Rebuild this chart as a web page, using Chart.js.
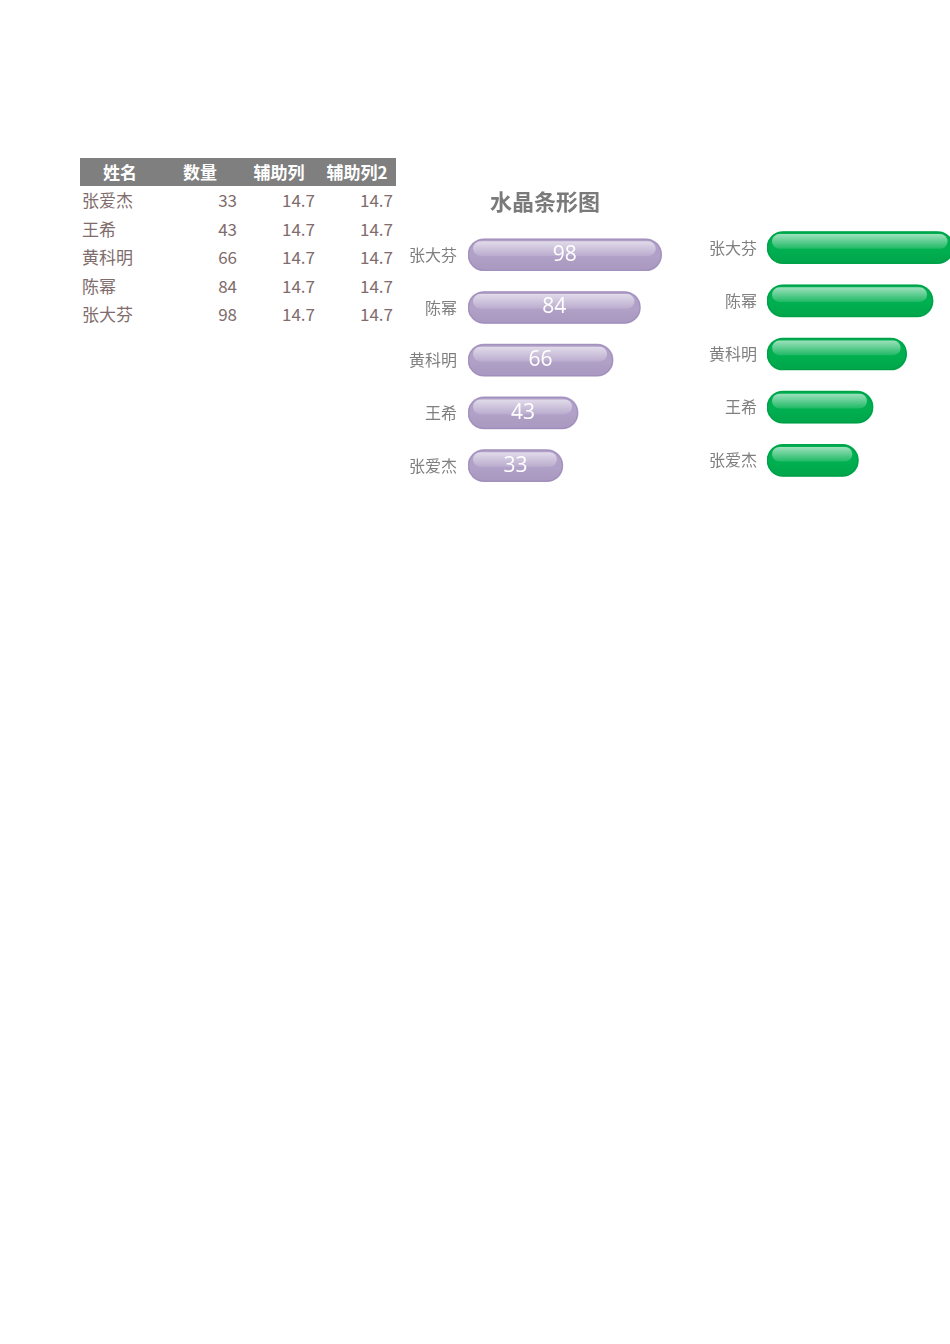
<!DOCTYPE html>
<html>
<head>
<meta charset="utf-8">
<script src="https://cdn.jsdelivr.net/npm/chart.js@4.4.1/dist/chart.umd.min.js"></script>
<style>
  html, body { margin: 0; padding: 0; background: #fff; overflow: hidden; }
  body { width: 950px; height: 1344px; position: relative; font-family: "Noto Sans CJK SC", "Noto Sans", sans-serif; }
  #tbl { position: absolute; left: 80px; top: 158px; border-collapse: collapse; table-layout: fixed; width: 316px; }
  #tbl th { background: #7f7f7f; color: #fff; font-weight: bold; font-size: 17px; height: 28px; padding: 0; text-align: center; line-height: 28px; }
  #tbl td { color: #806c6c; font-size: 17px; height: 28.5px; line-height: 28.5px; padding: 0 3px 0 0; text-align: right; }
  #tbl td.name { text-align: left; padding: 0 0 0 2px; }
  .box { position: absolute; }
  canvas { display: block; }
</style>
</head>
<body>
<table id="tbl">
  <colgroup><col style="width:80px"><col style="width:80px"><col style="width:78px"><col style="width:78px"></colgroup>
  <thead><tr id="head"></tr></thead>
  <tbody id="rows"></tbody>
</table>
<div class="box" style="left:400px;top:175px;"><canvas id="chart1" width="290" height="320"></canvas></div>
<div class="box" style="left:700px;top:175px;"><canvas id="chart2" width="280" height="320"></canvas></div>
<script>
// data, as in the sheet (first row ends up at the bottom of the bar chart)
var headers = ['姓名', '数量', '辅助列', '辅助列2'];
var names = ['张爱杰', '王希', '黄科明', '陈幂', '张大芬'];
var counts = [33, 43, 66, 84, 98];
var helper1 = [14.7, 14.7, 14.7, 14.7, 14.7];
var helper2 = [14.7, 14.7, 14.7, 14.7, 14.7];
var chartTitle = '水晶条形图';

// table
var head = document.getElementById('head');
headers.forEach(function (h) {
  var th = document.createElement('th');
  th.textContent = h;
  head.appendChild(th);
});
var rows = document.getElementById('rows');
names.forEach(function (n, i) {
  var tr = document.createElement('tr');
  [n, counts[i], helper1[i], helper2[i]].forEach(function (v, j) {
    var td = document.createElement('td');
    if (j === 0) td.className = 'name';
    td.textContent = v;
    tr.appendChild(td);
  });
  rows.appendChild(tr);
});

// capsule length = helper + value + helper
var totals = counts.map(function (v, i) { return helper1[i] + v + helper2[i]; });

function pill(ctx, x, y, w, h) {
  var r = h / 2;
  ctx.beginPath();
  ctx.moveTo(x + r, y);
  ctx.lineTo(x + w - r, y);
  ctx.arc(x + w - r, y + r, r, -Math.PI / 2, Math.PI / 2);
  ctx.lineTo(x + r, y + h);
  ctx.arc(x + r, y + r, r, Math.PI / 2, Math.PI * 1.5);
  ctx.closePath();
}

// glossy overlay + value labels
var crystal = {
  id: 'crystal',
  afterDatasetsDraw: function (chart, args, opts) {
    var ctx = chart.ctx;
    var meta = chart.getDatasetMeta(0);
    meta.data.forEach(function (bar, i) {
      var p = bar.getProps(['x', 'y', 'base', 'height'], true);
      var l = Math.min(p.base, p.x), r = Math.max(p.base, p.x);
      var h = p.height, t = p.y - h / 2;
      ctx.save();
      // darker lower body
      pill(ctx, l, t, r - l, h);
      var g = ctx.createLinearGradient(0, t, 0, t + h);
      g.addColorStop(0, 'rgba(0,0,0,0)');
      g.addColorStop(0.55, 'rgba(0,0,0,0)');
      g.addColorStop(1, opts.shade);
      ctx.fillStyle = g;
      ctx.fill();
      // edge
      pill(ctx, l + 0.5, t + 0.5, r - l - 1, h - 1);
      ctx.strokeStyle = opts.edge;
      ctx.lineWidth = 1;
      ctx.stroke();
      // top highlight
      var hl = l + 5, hr = r - 6, ht = t + 2.5, hh = h * 0.46;
      pill(ctx, hl, ht, hr - hl, hh);
      g = ctx.createLinearGradient(0, ht, 0, ht + hh);
      g.addColorStop(0, opts.hiTop);
      g.addColorStop(1, opts.hiBottom);
      ctx.fillStyle = g;
      ctx.fill();
      ctx.restore();
      if (opts.showValues) {
        ctx.save();
        ctx.font = '21px "Open Sans", "Noto Sans", sans-serif';
        ctx.fillStyle = '#ffffff';
        ctx.textAlign = 'center';
        ctx.textBaseline = 'middle';
        ctx.fillText(String(counts[i]), (l + r) / 2, p.y);
        ctx.restore();
      }
    });
  }
};

function makeChart(id, color, gloss, cfg) {
  var ctx = document.getElementById(id).getContext('2d');
  return new Chart(ctx, {
    type: 'bar',
    data: {
      labels: names,
      datasets: [{
        label: '数量',
        data: totals,
        backgroundColor: color,
        borderWidth: 0,
        borderRadius: 16,
        borderSkipped: false,
        barThickness: 32
      }]
    },
    options: {
      indexAxis: 'y',
      responsive: false,
      animation: false,
      layout: { padding: cfg.padding },
      plugins: {
        legend: { display: false },
        tooltip: { enabled: false },
        title: {
          display: cfg.title,
          text: chartTitle,
          color: '#7a7a7a',
          font: { size: 22, weight: 'bold', family: '"Noto Sans CJK SC", sans-serif' },
          padding: { top: 13, bottom: 14 }
        },
        crystal: gloss
      },
      scales: {
        x: { display: false, min: 0, max: cfg.xMax },
        y: {
          reverse: true,
          border: { display: false },
          grid: { display: false, drawTicks: false },
          ticks: {
            color: '#7f7f7f',
            padding: cfg.tickPad,
            font: { size: 16, family: '"Noto Sans CJK SC", sans-serif' }
          },
          afterFit: function (scale) {
            scale.width = cfg.axisWidth;
            scale.paddingTop = 0;
            scale.paddingBottom = 0;
          }
        }
      }
    },
    plugins: [crystal]
  });
}

// chart 1 - purple with values
makeChart('chart1', '#b1a1c8', {
  showValues: true,
  edge: 'rgba(150,130,180,0.6)',
  shade: 'rgba(90,60,120,0.08)',
  hiTop: 'rgba(255,255,255,0.62)',
  hiBottom: 'rgba(255,255,255,0.12)'
}, { title: true, xMax: 146, padding: { top: 0, right: 0, bottom: 3, left: 0 }, tickPad: 11, axisWidth: 68 });

// chart 2 - green
makeChart('chart2', '#00b050', {
  showValues: false,
  edge: 'rgba(0,150,70,0.7)',
  shade: 'rgba(0,60,20,0.08)',
  hiTop: 'rgba(255,255,255,0.62)',
  hiBottom: 'rgba(255,255,255,0.12)'
}, { title: false, xMax: 140, padding: { top: 46, right: 8, bottom: 8, left: 0 }, tickPad: 10, axisWidth: 67 });
</script>
</body>
</html>
